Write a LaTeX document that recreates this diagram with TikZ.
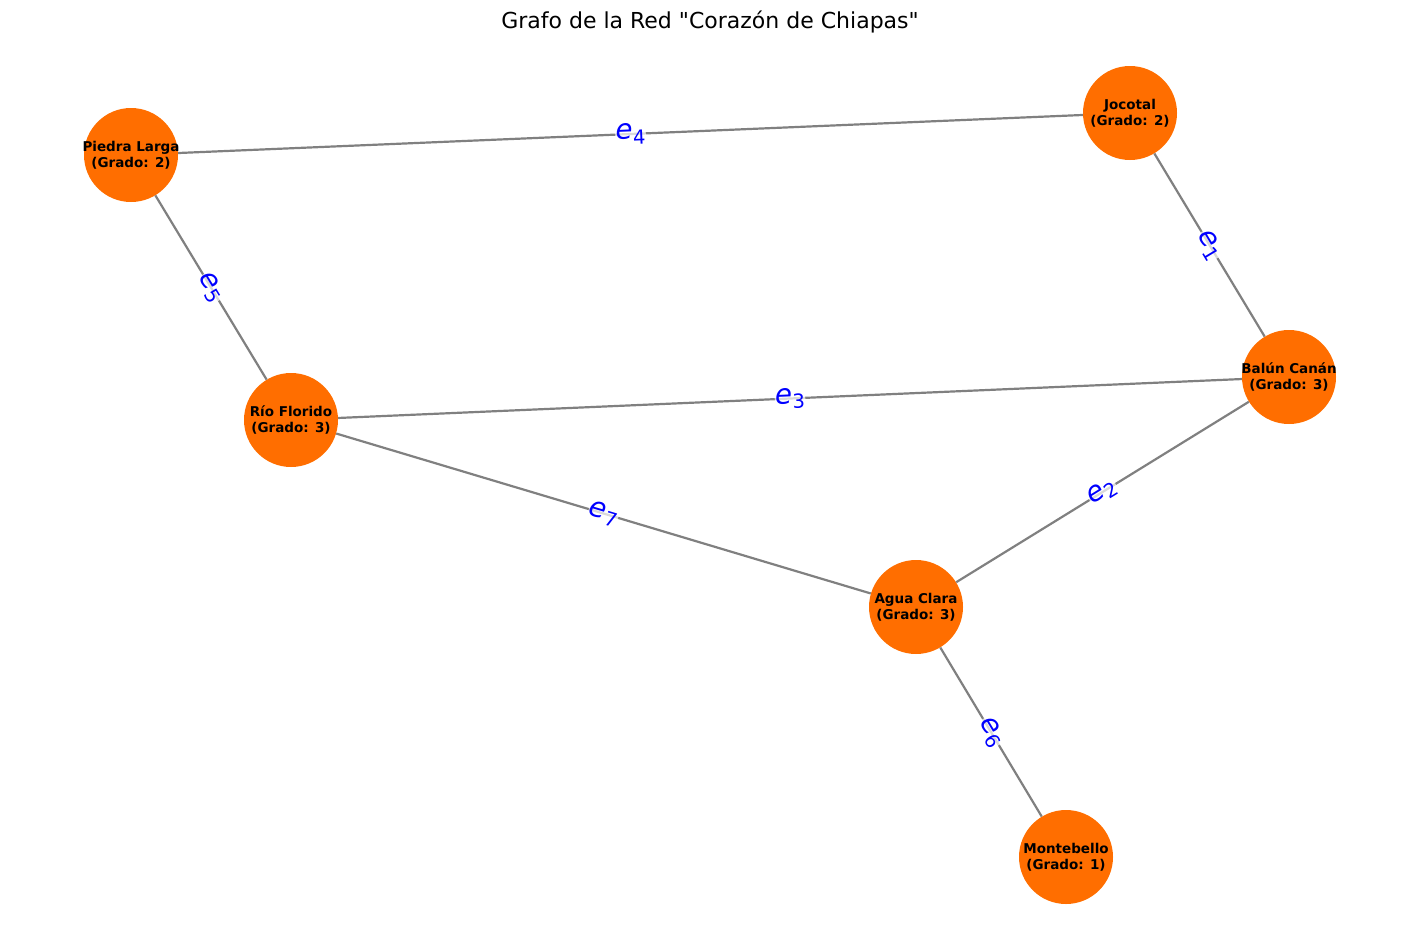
\documentclass[tikz,border=0pt]{standalone}
\usepackage{fontspec}
\setmainfont{DejaVu Sans}
\newfontfamily\titulofont{DejaVu Sans}[Ligatures=TeXOff]
\definecolor{naranja}{RGB}{255,110,0}
\definecolor{gris}{RGB}{128,128,128}
\newcommand{\etq}[1]{{\itshape e}\raisebox{-5pt}{\fontsize{19.5}{20}\selectfont #1}}
\begin{document}
\begin{tikzpicture}[x=1pt, y=-1pt,
  estacion/.style={circle, fill=naranja, minimum size=94pt, inner sep=0pt},
  rotulo/.style={align=center, font=\fontsize{13.5}{16}\selectfont\bfseries},
  arista/.style={draw=gris, line width=2.2pt},
  etiqueta/.style={midway, sloped, text=blue, fill=white, fill opacity=0.7, text opacity=1, inner sep=0.5pt, font=\fontsize{27.8}{30}\selectfont}]
\useasboundingbox (0,0) rectangle (1420,945);
\node[font=\titulofont\fontsize{22}{24}\selectfont] (titulo) at (710,22) {Grafo de la Red "Corazón de Chiapas"};
% estaciones
\node[estacion] (pl) at (131,155) {};
\node[estacion] (jo) at (1130,113) {};
\node[estacion] (bc) at (1289,377) {};
\node[estacion] (rf) at (291,420) {};
\node[estacion] (ac) at (916,607) {};
\node[estacion] (mb) at (1066,857) {};
\node[rotulo] at (pl) {Piedra Larga\\(Grado: 2)};
\node[rotulo] at (jo) {Jocotal\\(Grado: 2)};
\node[rotulo] at (bc) {Balún Canán\\(Grado: 3)};
\node[rotulo] at (rf) {Río Florido\\(Grado: 3)};
\node[rotulo] at (ac) {Agua Clara\\(Grado: 3)};
\node[rotulo] at (mb) {Montebello\\(Grado: 1)};
% aristas
\draw[arista] (jo) -- node[etiqueta] {\etq{1}} (bc);
\draw[arista] (ac) -- node[etiqueta] {\etq{2}} (bc);
\draw[arista] (rf) -- node[etiqueta] {\etq{3}} (bc);
\draw[arista] (pl) -- node[etiqueta] {\etq{4}} (jo);
\draw[arista] (pl) -- node[etiqueta] {\etq{5}} (rf);
\draw[arista] (ac) -- node[etiqueta] {\etq{6}} (mb);
\draw[arista] (rf) -- node[etiqueta] {\etq{7}} (ac);
\end{tikzpicture}
\end{document}
